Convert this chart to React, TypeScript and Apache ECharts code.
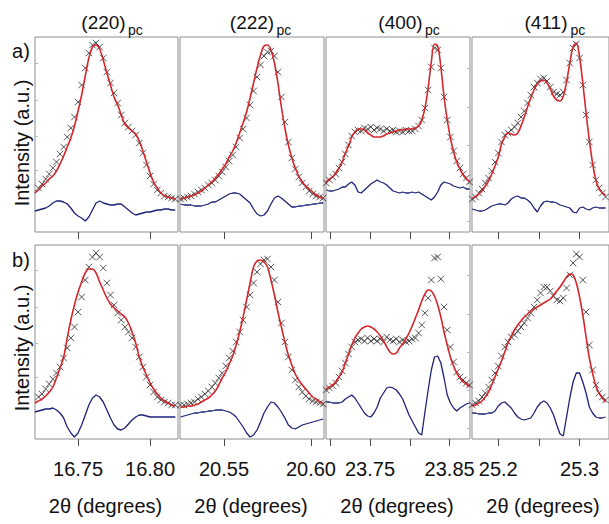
import React, { useEffect, useRef } from "react";
import * as echarts from "echarts";

// 2θ scan points for each reflection
const TWO_THETA_220 = [16.72, 16.7225, 16.725, 16.7275, 16.73, 16.7325, 16.735, 16.7375, 16.74, 16.7425, 16.745, 16.7475, 16.75, 16.7525, 16.755, 16.7575, 16.76, 16.7625, 16.765, 16.7675, 16.77, 16.7725, 16.775, 16.7775, 16.78, 16.7825, 16.785, 16.7875, 16.79, 16.7925, 16.795, 16.7975, 16.8, 16.8025, 16.805, 16.8075, 16.81, 16.8125, 16.815, 16.8175];
const TWO_THETA_222 = [20.525, 20.527, 20.529, 20.531, 20.533, 20.535, 20.537, 20.539, 20.541, 20.543, 20.545, 20.547, 20.549, 20.551, 20.553, 20.555, 20.557, 20.559, 20.561, 20.563, 20.565, 20.567, 20.569, 20.571, 20.573, 20.575, 20.577, 20.579, 20.581, 20.583, 20.585, 20.587, 20.589, 20.591, 20.593, 20.595, 20.597, 20.599, 20.601, 20.603, 20.605, 20.607];
const TWO_THETA_400 = [23.695, 23.699, 23.703, 23.707, 23.711, 23.715, 23.719, 23.723, 23.727, 23.731, 23.735, 23.739, 23.743, 23.747, 23.751, 23.755, 23.759, 23.763, 23.767, 23.771, 23.775, 23.779, 23.783, 23.787, 23.791, 23.795, 23.799, 23.803, 23.807, 23.811, 23.815, 23.819, 23.823, 23.827, 23.831, 23.835, 23.839, 23.843, 23.847, 23.851, 23.855, 23.859, 23.863, 23.867, 23.871, 23.875];
const TWO_THETA_411 = [25.168, 25.172, 25.176, 25.18, 25.184, 25.188, 25.192, 25.196, 25.2, 25.204, 25.208, 25.212, 25.216, 25.22, 25.224, 25.228, 25.232, 25.236, 25.24, 25.244, 25.248, 25.252, 25.256, 25.26, 25.264, 25.268, 25.272, 25.276, 25.28, 25.284, 25.288, 25.292, 25.296, 25.3, 25.304, 25.308, 25.312, 25.316, 25.32, 25.324, 25.328, 25.332];

// Row a): observed intensity, fitted profile, difference curve
const OBS_A_220 = [40, 44, 48, 53, 58, 64, 70, 78, 85, 95, 104, 115, 130, 147, 164, 179, 187, 189, 185, 174, 160, 149, 139, 129, 117, 109, 105, 101, 97, 89, 79, 67, 56, 48, 42, 39, 36, 35, 34, 33];
const FIT_A_220 = [39, 42, 46, 49, 53, 56, 61, 68, 76, 85, 94, 106, 121, 137, 156, 174, 185, 187, 183, 172, 159, 147, 135, 127, 117, 108, 104, 101, 98, 91, 81, 70, 59, 50, 44, 39, 36, 35, 34, 33];
const DIFF_A_220 = [21, 22, 23, 24, 26, 29, 31, 31, 30, 28, 24, 19, 16, 14, 11, 15, 22, 29, 31, 29, 28, 27, 27, 28, 28, 25, 22, 19, 17, 18, 19, 20, 20, 21, 22, 22, 23, 23, 22, 22];

const OBS_A_222 = [33, 34, 35, 36, 38, 40, 42, 44, 47, 49, 52, 56, 60, 65, 71, 77, 85, 94, 103, 114, 127, 141, 155, 167, 176, 180, 181, 176, 160, 135, 110, 90, 74, 63, 55, 49, 45, 41, 38, 36, 35, 34];
const FIT_A_222 = [33, 34, 35, 36, 37, 39, 41, 44, 47, 50, 54, 58, 63, 68, 75, 81, 89, 99, 109, 120, 134, 149, 164, 177, 186, 187, 182, 169, 149, 125, 104, 87, 74, 64, 56, 50, 46, 43, 40, 37, 35, 34];
const DIFF_A_222 = [28, 27, 27, 27, 26, 26, 26, 27, 28, 30, 30, 32, 34, 36, 38, 39, 39, 38, 35, 32, 29, 23, 18, 16, 17, 21, 28, 34, 36, 34, 31, 28, 25, 25, 26, 26, 27, 27, 28, 28, 29, 29];

const OBS_A_400 = [49, 52, 55, 58, 64, 70, 78, 87, 96, 100, 102, 101, 104, 103, 105, 102, 104, 103, 101, 103, 101, 102, 100, 101, 100, 102, 101, 101, 103, 106, 112, 124, 142, 165, 184, 182, 164, 135, 112, 95, 81, 71, 64, 58, 54, 50];
const FIT_A_400 = [50, 53, 55, 59, 64, 70, 79, 86, 95, 100, 103, 103, 102, 99, 97, 95, 95, 95, 96, 98, 99, 100, 101, 102, 102, 103, 103, 103, 104, 106, 112, 124, 144, 170, 188, 186, 165, 135, 112, 94, 80, 70, 63, 57, 53, 50];
const DIFF_A_400 = [42, 41, 41, 42, 43, 45, 45, 48, 50, 47, 40, 39, 42, 45, 48, 50, 52, 50, 49, 47, 44, 41, 40, 39, 40, 39, 39, 40, 39, 40, 38, 36, 34, 32, 35, 40, 47, 50, 49, 48, 46, 45, 44, 45, 43, 43];

const OBS_A_411 = [33, 35, 39, 43, 49, 54, 61, 70, 79, 90, 97, 99, 102, 105, 109, 115, 121, 129, 137, 145, 149, 153, 154, 151, 145, 140, 138, 137, 140, 152, 169, 184, 188, 174, 147, 117, 90, 67, 52, 44, 39, 35];
const FIT_A_411 = [34, 35, 38, 41, 46, 51, 58, 66, 75, 88, 95, 99, 98, 97, 99, 106, 115, 125, 134, 142, 148, 151, 152, 149, 143, 136, 132, 131, 136, 150, 169, 185, 189, 175, 149, 119, 92, 69, 52, 43, 39, 37];
const DIFF_A_411 = [23, 22, 21, 21, 22, 24, 26, 27, 28, 28, 27, 29, 33, 35, 36, 34, 34, 32, 29, 24, 20, 26, 30, 31, 30, 30, 29, 27, 26, 25, 24, 20, 19, 24, 25, 23, 22, 24, 25, 24, 24, 24];

// Row b): observed intensity, fitted profile, difference curve
const OBS_B_220 = [38, 42, 45, 50, 55, 60, 66, 72, 81, 91, 101, 112, 127, 142, 159, 172, 182, 186, 182, 171, 156, 144, 134, 126, 119, 112, 107, 101, 92, 82, 72, 62, 54, 47, 42, 39, 37, 36, 34, 34];
const FIT_B_220 = [36, 38, 40, 43, 47, 52, 61, 71, 82, 101, 119, 134, 147, 157, 166, 170, 170, 166, 157, 149, 141, 135, 131, 128, 125, 122, 116, 107, 96, 82, 72, 64, 56, 50, 45, 41, 38, 36, 34, 33];
const DIFF_B_220 = [27, 28, 29, 30, 30, 31, 29, 26, 21, 12, 6, 2, 6, 14, 24, 34, 41, 44, 42, 37, 29, 21, 14, 10, 9, 11, 15, 19, 22, 24, 24, 23, 22, 22, 22, 22, 22, 22, 22, 22];

const OBS_B_222 = [34, 34, 35, 36, 37, 40, 42, 45, 48, 52, 56, 61, 66, 73, 81, 88, 97, 107, 119, 132, 144, 156, 167, 175, 179, 180, 172, 159, 137, 116, 97, 82, 69, 59, 52, 47, 43, 40, 38, 37, 36, 35];
const FIT_B_222 = [32, 32, 33, 33, 34, 35, 37, 39, 41, 44, 48, 54, 61, 67, 75, 83, 94, 107, 122, 139, 156, 172, 178, 179, 177, 172, 159, 144, 127, 112, 97, 84, 74, 65, 59, 54, 50, 46, 42, 40, 37, 36];
const DIFF_B_222 = [22, 23, 24, 25, 26, 26, 27, 27, 28, 28, 29, 29, 29, 28, 27, 25, 22, 17, 12, 6, 2, 4, 9, 17, 26, 32, 37, 36, 32, 27, 21, 14, 11, 10, 12, 14, 15, 16, 17, 18, 19, 20];

const OBS_B_400 = [49, 51, 53, 56, 62, 68, 76, 85, 92, 97, 99, 100, 98, 101, 98, 100, 98, 100, 97, 102, 99, 98, 100, 97, 99, 97, 98, 100, 101, 106, 114, 126, 141, 159, 181, 182, 160, 132, 109, 92, 77, 67, 62, 59, 56, 54];
const FIT_B_400 = [50, 52, 54, 57, 62, 67, 76, 85, 94, 101, 106, 110, 112, 113, 112, 110, 107, 103, 98, 92, 87, 85, 86, 91, 95, 100, 106, 113, 121, 129, 138, 145, 149, 148, 143, 134, 122, 107, 94, 82, 73, 66, 61, 57, 55, 52];
const DIFF_B_400 = [37, 37, 36, 36, 36, 37, 40, 42, 44, 41, 36, 31, 26, 23, 22, 26, 32, 41, 46, 51, 52, 51, 49, 45, 40, 32, 24, 18, 12, 6, 4, 27, 49, 69, 82, 83, 76, 61, 44, 36, 31, 28, 31, 33, 35, 36];

const OBS_B_411 = [34, 36, 38, 42, 46, 52, 59, 66, 73, 83, 92, 97, 102, 104, 108, 112, 116, 121, 126, 132, 139, 146, 152, 152, 148, 143, 139, 138, 141, 151, 164, 176, 185, 182, 159, 127, 94, 69, 54, 46, 42, 39];
const FIT_B_411 = [33, 34, 36, 38, 42, 47, 54, 62, 70, 78, 87, 96, 103, 109, 114, 118, 122, 125, 128, 130, 132, 134, 136, 138, 140, 144, 148, 152, 157, 162, 165, 164, 156, 142, 124, 102, 81, 66, 53, 46, 41, 37];
const DIFF_B_411 = [26, 26, 25, 25, 25, 26, 26, 28, 33, 36, 37, 34, 31, 26, 22, 20, 19, 20, 21, 26, 32, 36, 38, 36, 31, 24, 14, 5, 3, 22, 41, 57, 66, 66, 57, 46, 32, 26, 22, 21, 21, 22];

// Reflection names and tick positions per column
const REFLECTIONS = ["(220)", "(222)", "(400)", "(411)"];
const TICKS_220 = [16.75, 16.8];
const TICKS_222 = [20.55, 20.6];
const TICKS_400 = [23.7, 23.75, 23.8, 23.85];
const TICKS_411 = [25.2, 25.25, 25.3];
const LABELS_220 = [16.75, 16.8];
const LABELS_222 = [20.55, 20.6];
const LABELS_400 = [23.75, 23.85];
const LABELS_411 = [25.2, 25.3];
const ROW_NAMES = ["a)", "b)"];

const FONT = '"Liberation Sans", Arial, Helvetica, sans-serif';
const X_MARK = "path://M0,0L10,10M10,0L0,10";

// Column geometry (pixels) and axis windows
const COLUMNS = [
  { left: 35, width: 143, min: 16.7201, max: 16.8194, x: TWO_THETA_220, ticks: TICKS_220, labels: LABELS_220, dec: 2, titleX: 103.5 },
  { left: 180, width: 144, min: 20.5247, max: 20.6075, x: TWO_THETA_222, ticks: TICKS_222, labels: LABELS_222, dec: 2, titleX: 252 },
  { left: 326, width: 144, min: 23.6947, max: 23.8756, x: TWO_THETA_400, ticks: TICKS_400, labels: LABELS_400, dec: 2, titleX: 400.5 },
  { left: 472, width: 141, min: 25.1677, max: 25.3362, x: TWO_THETA_411, ticks: TICKS_411, labels: LABELS_411, dec: 1, titleX: 546 },
];
const ROWS = [
  { top: 37, height: 195, yMax: 195, labelY: 51, axisTitleY: 143 },
  { top: 245, height: 194, yMax: 194, labelY: 260, axisTitleY: 348 },
];

const PANEL_DATA = [
  [
    [OBS_A_220, FIT_A_220, DIFF_A_220],
    [OBS_A_222, FIT_A_222, DIFF_A_222],
    [OBS_A_400, FIT_A_400, DIFF_A_400],
    [OBS_A_411, FIT_A_411, DIFF_A_411],
  ],
  [
    [OBS_B_220, FIT_B_220, DIFF_B_220],
    [OBS_B_222, FIT_B_222, DIFF_B_222],
    [OBS_B_400, FIT_B_400, DIFF_B_400],
    [OBS_B_411, FIT_B_411, DIFF_B_411],
  ],
];

const zip = (xs: number[], ys: number[]) => xs.map((x, i) => [x, ys[i]]);

function buildOption() {
  const grid: any[] = [];
  const xAxis: any[] = [];
  const yAxis: any[] = [];
  const series: any[] = [];
  const graphic: any[] = [];

  ROWS.forEach((row, r) => {
    COLUMNS.forEach((col, c) => {
      const k = grid.length;
      grid.push({
        left: col.left,
        top: row.top,
        width: col.width,
        height: row.height,
        show: true,
        borderColor: "#8e8e8e",
        borderWidth: 1,
        backgroundColor: "transparent",
      });
      xAxis.push({
        type: "value",
        gridIndex: k,
        min: col.min,
        max: col.max,
        axisLine: { show: false },
        splitLine: { show: false },
        axisTick: {
          show: true,
          inside: false,
          length: 7,
          customValues: col.ticks,
          lineStyle: { color: "#4a4a4a", width: 1 },
        },
        axisLabel: {
          show: r === 1,
          customValues: col.labels,
          formatter: (v: number) => v.toFixed(col.dec),
          fontSize: 20,
          fontFamily: FONT,
          color: "#111",
          margin: 20,
        },
      });
      const yTicks = c === 0 ? [62, 96, 132, 169] : [11, 49, 87, 125, 164];
      yAxis.push({
        type: "value",
        gridIndex: k,
        min: 0,
        max: row.yMax,
        position: c === 2 ? "right" : "left",
        axisLine: { show: false },
        splitLine: { show: false },
        axisLabel: { show: false },
        axisTick: {
          show: c === 0 || c === 2,
          inside: true,
          length: 3,
          customValues: yTicks,
          lineStyle: { color: "#b5b5b5", width: 1 },
        },
      });
      const [obs, fit, diff] = PANEL_DATA[r][c];
      series.push({
        type: "scatter",
        xAxisIndex: k,
        yAxisIndex: k,
        data: zip(col.x, obs),
        symbol: X_MARK,
        symbolSize: 6.5,
        itemStyle: { color: "rgba(0,0,0,0)", borderColor: "#2b2b2b", borderWidth: 1 },
        z: 2,
        silent: true,
      });
      series.push({
        type: "line",
        xAxisIndex: k,
        yAxisIndex: k,
        data: zip(col.x, fit),
        symbol: "none",
        smooth: 0.35,
        lineStyle: { color: "#d5262b", width: 1.6 },
        z: 3,
        silent: true,
      });
      series.push({
        type: "line",
        xAxisIndex: k,
        yAxisIndex: k,
        data: zip(col.x, diff),
        symbol: "none",
        lineStyle: { color: "#1d2277", width: 1.3 },
        z: 3,
        silent: true,
      });
    });

    graphic.push({
      type: "text",
      x: 21,
      y: row.labelY,
      style: { text: ROW_NAMES[r], font: `20px ${FONT}`, fill: "#111", textAlign: "center", textVerticalAlign: "middle", verticalAlign: "middle" },
    });
    graphic.push({
      type: "text",
      x: 22,
      y: row.axisTitleY,
      rotation: Math.PI / 2,
      style: { text: "Intensity (a.u.)", font: `20px ${FONT}`, fill: "#111", textAlign: "center", textVerticalAlign: "middle", verticalAlign: "middle" },
    });
  });

  COLUMNS.forEach((col, c) => {
    graphic.push({
      type: "text",
      x: col.titleX,
      y: 22,
      style: { text: REFLECTIONS[c], font: `19px ${FONT}`, fill: "#111", textAlign: "center", textVerticalAlign: "middle", verticalAlign: "middle" },
    });
    graphic.push({
      type: "text",
      x: col.titleX + 24.5,
      y: 30,
      style: { text: "pc", font: `14px ${FONT}`, fill: "#111", textAlign: "left", textVerticalAlign: "middle", verticalAlign: "middle" },
    });
    graphic.push({
      type: "text",
      x: c === 3 ? 543 : col.left + col.width / 2 - 1,
      y: 506,
      style: { text: "2θ (degrees)", font: `20px ${FONT}`, fill: "#111", textAlign: "center", textVerticalAlign: "middle", verticalAlign: "middle" },
    });
  });

  return {
    animation: false,
    backgroundColor: "#ffffff",
    grid,
    xAxis,
    yAxis,
    series,
    graphic,
  };
}

export default function App() {
  const ref = useRef<HTMLDivElement>(null);

  useEffect(() => {
    if (!ref.current) return;
    const chart = echarts.init(ref.current, null, { renderer: "svg" });
    chart.setOption(buildOption() as any);
    return () => chart.dispose();
  }, []);

  return (
    <div
      ref={ref}
      style={{ position: "absolute", left: 0, top: 0, width: 609, height: 524, overflow: "hidden", background: "#fff" }}
    />
  );
}
